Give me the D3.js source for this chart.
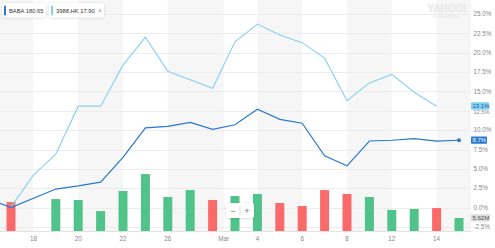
<!DOCTYPE html>
<html>
<head>
<meta charset="utf-8">
<script src="https://cdn.jsdelivr.net/npm/d3@7"></script>
<style>
  body { margin: 0; background: #fff; }
  text { font-family: "Liberation Sans", Arial, sans-serif; }
</style>
</head>
<body>
<div id="chart"></div>
<script>
// trading days, Feb 14 .. Mar 15
var days = ["Feb 14","Feb 15","Feb 18","Feb 19","Feb 20","Feb 21","Feb 22","Feb 25","Feb 26","Feb 27","Feb 28",
            "Mar 1","Mar 4","Mar 5","Mar 6","Mar 7","Mar 8","Mar 11","Mar 12","Mar 13","Mar 14","Mar 15"];
// % change
var baba = [1.1, 0.0, null, 2.4, 2.8, 3.3, 6.5, 10.3, 10.5, 11.0, 10.1, 10.7, 12.7, 11.4, 10.9, 6.7, 5.4, 8.6, 8.7, 8.9, 8.6, 8.7];
var hk3988 = [null, 0.1, 4.2, 6.9, 13.1, 13.1, 18.4, 22.0, 17.6, 16.5, 15.4, 21.4, 23.7, 22.3, 21.3, 19.3, 13.8, 16.1, 17.2, 14.9, 13.1, null];
// BABA volume, millions
var volume = [null, 12.5, null, 13.8, 13.4, 8.6, 17.3, 24.6, 14.7, 17.7, 13.4, 15.1, 16.0, 12.1, 10.8, 17.7, 16.0, 14.7, 9.1, 9.5, 9.9, 5.62];
var tickLabels = ["18","20","22","26","Mar","4","6","8","12","14"];
var tickIndex = [2, 4, 6, 8, 10.5, 12, 14, 16, 18, 20];
var yTicks = [-2.5, 0, 2.5, 5, 7.5, 10, 12.5, 15, 17.5, 20, 22.5, 25];

var W = 495, H = 248, plotR = 471, plotB = 232;
var darkBlue = "#2a78cf", lightBlue = "#86cff2", green = "#4fc389", red = "#fb6a6a";

var svg = d3.select("#chart").append("svg")
  .attr("width", W).attr("height", H);

var defs = svg.append("defs");
defs.append("clipPath").attr("id", "plotclip")
  .append("rect").attr("x", 0).attr("y", 0).attr("width", plotR).attr("height", plotB);
var sh = defs.append("filter").attr("id", "shadow").attr("x", "-20%").attr("y", "-40%").attr("width", "140%").attr("height", "180%");
sh.append("feDropShadow").attr("dx", 0).attr("dy", 0.5).attr("stdDeviation", 0.8)
  .attr("flood-color", "#000").attr("flood-opacity", 0.18);

var x = d3.scaleLinear().domain([0, 21]).range([-11.4, 459]);
var y = d3.scaleLinear().domain([-2.5, 25]).range([227, 14]);
var yVol = d3.scaleLinear().domain([0, 30]).range([231, 231 - 69.4]);

var plot = svg.append("g").attr("clip-path", "url(#plotclip)");

// alternating background bands between ticks
var edges = [0].concat(tickIndex.map(function(t) { return x(t); })).concat([plotR]);
var bands = d3.range(edges.length - 1).map(function(i) { return [edges[i], edges[i + 1], i % 2 == 0]; });
plot.append("g").selectAll("rect").data(bands).enter().append("rect")
  .attr("x", d => d[0]).attr("y", 0)
  .attr("width", d => d[1] - d[0]).attr("height", plotB)
  .attr("fill", d => d[2] ? "#f6f6f6" : "#fff");

// horizontal grid
plot.append("g").selectAll("line").data(yTicks).enter().append("line")
  .attr("x1", 0).attr("x2", plotR)
  .attr("y1", d => Math.round(y(d)) + 0.5).attr("y2", d => Math.round(y(d)) + 0.5)
  .attr("stroke", "#ececec").attr("stroke-width", 1);

// volume bars, coloured by BABA move
var volData = volume.map(function(v, i) {
  var prev = i - 1;
  while (prev >= 0 && baba[prev] == null) prev--;
  return { i: i, v: v, up: prev >= 0 && baba[i] >= baba[prev] };
}).filter(d => d.v != null);

plot.append("g").selectAll("rect").data(volData).enter().append("rect")
  .attr("x", d => x(d.i) - 4.5).attr("width", 9)
  .attr("y", d => yVol(d.v)).attr("height", d => yVol(0) - yVol(d.v))
  .attr("fill", d => d.up ? green : red);

// lines
var line = d3.line()
  .defined(d => d.v != null)
  .x(d => x(d.i)).y(d => y(d.v));
var babaPts = baba.map((v, i) => ({ i: i, v: v })).filter(d => d.v != null);
var hkPts = hk3988.map((v, i) => ({ i: i, v: v }));

plot.append("path").datum(hkPts)
  .attr("d", line).attr("fill", "none")
  .attr("stroke", lightBlue).attr("stroke-width", 1.1);
plot.append("path").datum(babaPts)
  .attr("d", line).attr("fill", "none")
  .attr("stroke", darkBlue).attr("stroke-width", 1.2);

var lastBaba = babaPts[babaPts.length - 1];
plot.append("circle").attr("cx", x(lastBaba.i)).attr("cy", y(lastBaba.v)).attr("r", 2)
  .attr("fill", darkBlue);

// bottom axis line
svg.append("line").attr("x1", 0).attr("x2", plotR).attr("y1", plotB - 0.5).attr("y2", plotB - 0.5)
  .attr("stroke", "#e2e2e2");

// x labels
svg.append("g").selectAll("text").data(tickLabels).enter().append("text")
  .attr("x", (d, i) => x(tickIndex[i])).attr("y", 241)
  .attr("text-anchor", "middle").attr("font-size", 6.3).attr("fill", "#888")
  .text(d => d);

// y labels (12.5% sits just under the 3988.HK tag, as in the original)
svg.append("g").selectAll("text").data(yTicks).enter().append("text")
  .attr("x", 473.5).attr("y", d => y(d) + (d == 12.5 ? 3.2 : 2.2))
  .attr("font-size", d => d == 12.5 ? 5.6 : 6.3).attr("fill", "#888")
  .text(d => d.toFixed(1) + "%");

// end-value tags
var lastHk = hkPts.filter(d => d.v != null).pop();
var tags = [
  { yv: y(lastHk.v), txt: lastHk.v.toFixed(1) + "%", bg: lightBlue, fg: "#1d5f9a", w: 18 },
  { yv: y(lastBaba.v), txt: lastBaba.v.toFixed(1) + "%", bg: darkBlue, fg: "#fff", w: 16 },
  { yv: yVol(volume[volume.length - 1]), txt: volume[volume.length - 1].toFixed(2) + "M", bg: "#dcdcdc", fg: "#555", w: 19 }
];
var tg = svg.append("g").selectAll("g").data(tags).enter().append("g");
tg.append("rect").attr("x", 471).attr("y", d => d.yv - 3.8).attr("width", d => d.w).attr("height", 7.4)
  .attr("rx", 1).attr("fill", d => d.bg);
tg.append("text").attr("x", 472.5).attr("y", d => d.yv + 2.1)
  .attr("font-size", 6).attr("fill", d => d.fg).text(d => d.txt);

// watermark
svg.append("text").attr("x", 447).attr("y", 12).attr("text-anchor", "middle")
  .attr("font-size", 10).attr("font-weight", "bold").attr("fill", "#f0f0f0")
  .attr("stroke", "#e4e4e4").attr("stroke-width", 0.4).text("YAHOO!");
svg.append("text").attr("x", 447).attr("y", 18).attr("text-anchor", "middle")
  .attr("font-size", 4.5).attr("letter-spacing", 1.2).attr("fill", "#e2e2e2").text("FINANCE");

// legend chips
var legend = [
  { label: "BABA 180.65", color: darkBlue, x0: 2, w: 44, close: false },
  { label: "3988.HK 17.90", color: lightBlue, x0: 49, w: 55, close: true }
];
var lg = svg.append("g").selectAll("g").data(legend).enter().append("g");
lg.append("rect").attr("x", d => d.x0).attr("y", 3).attr("width", d => d.w).attr("height", 14.5)
  .attr("rx", 2).attr("fill", "#fff").attr("filter", "url(#shadow)");
lg.append("rect").attr("x", d => d.x0 + 2).attr("y", 5.5).attr("width", 2).attr("height", 10)
  .attr("rx", 1).attr("fill", d => d.color);
lg.append("text").attr("x", d => d.x0 + 7).attr("y", 12.6)
  .attr("font-size", 5.8).attr("fill", "#333").text(d => d.label);
lg.filter(d => d.close).append("text").attr("x", d => d.x0 + d.w - 6).attr("y", 12.8)
  .attr("font-size", 7).attr("fill", "#999").text("\u00d7");

// zoom control
var zc = svg.append("g");
zc.append("rect").attr("x", 226).attr("y", 203).attr("width", 28).attr("height", 15)
  .attr("rx", 2).attr("fill", "#fff").attr("filter", "url(#shadow)");
zc.append("line").attr("x1", 240).attr("x2", 240).attr("y1", 206).attr("y2", 215)
  .attr("stroke", "#ddd");
zc.append("text").attr("x", 233).attr("y", 213.5).attr("text-anchor", "middle")
  .attr("font-size", 9).attr("fill", "#777").text("\u2212");
zc.append("text").attr("x", 247).attr("y", 213.5).attr("text-anchor", "middle")
  .attr("font-size", 9).attr("fill", "#777").text("+");
</script>
</body>
</html>
